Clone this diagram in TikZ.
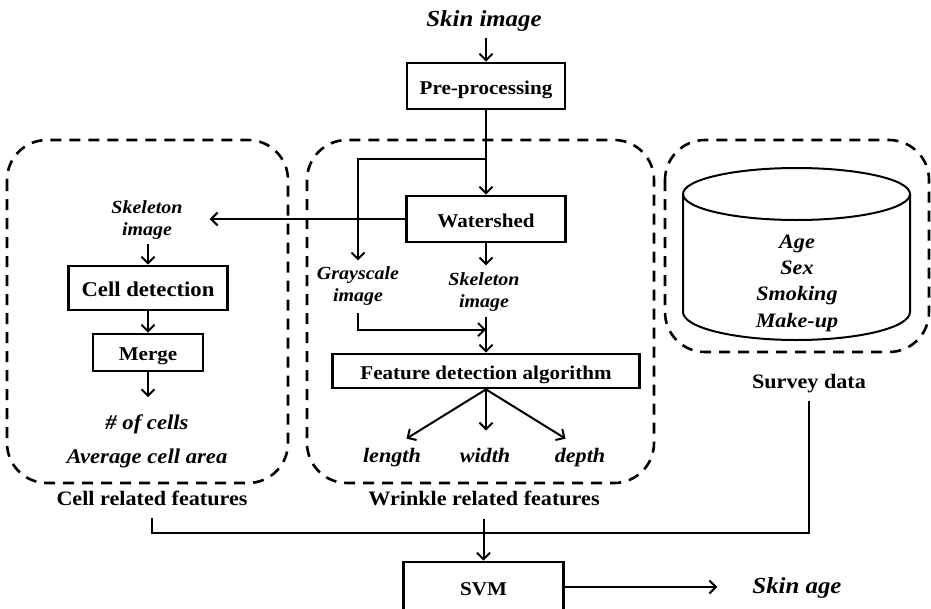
\documentclass[tikz,border=0pt]{standalone}
\usepackage{fontspec}
\setmainfont{Liberation Serif}[FakeStretch=1.08]
\usetikzlibrary{arrows.meta}
\begin{document}
\begin{tikzpicture}[x=1pt,y=-1pt,
  box/.style={draw,line width=2.8pt,inner sep=0pt,text height=16pt,text depth=0pt,
    font=\bfseries\fontsize{19.5}{22}\selectfont},
  ilbl/.style={inner sep=0pt,align=center,font=\bfseries\itshape\fontsize{18.5}{22}\selectfont},
  blbl/.style={inner sep=0pt,anchor=base,font=\bfseries\fontsize{20.5}{24}\selectfont},
  line/.style={line width=2pt},
  arr/.style={line width=2pt,-{Straight Barb[length=6.5pt,width=13pt]}},
  dbox/.style={line width=2.6pt,dash pattern=on 11pt off 8pt,rounded corners=40pt},
  cyl/.style={line width=2pt}]
\useasboundingbox (0,0) rectangle (931,608);
\clip (0,0) rectangle (931,608);

% containers
\draw[dbox] (7,140) rectangle (288,483);
\draw[dbox] (307,140) rectangle (654,483);
\draw[dbox] (665,140) rectangle (929,352);

% database cylinder
\draw[cyl] (796.5,194) ellipse [x radius=113.5, y radius=26];
\draw[cyl] (683,194) -- (683,312) arc[start angle=180, end angle=0, x radius=113.5, y radius=28] -- (910,194);

% boxes
\node[box,minimum width=158pt,minimum height=46pt] (pre) at (486,86) {Pre-processing};
\node[box,minimum width=159pt,minimum height=46pt] (ws) at (486,219) {Watershed};
\node[box,minimum width=159pt,minimum height=44pt,font=\bfseries\fontsize{21}{24}\selectfont] (cd) at (148,288) {Cell detection};
\node[box,minimum width=110pt,minimum height=37pt] (mg) at (148,352.5) {Merge};
\node[box,minimum width=307pt,minimum height=34pt] (fd) at (486,371) {Feature detection algorithm};
\node[box,minimum width=160pt,minimum height=50pt] (svm) at (483.5,587) {SVM};

% labels
\node[ilbl,anchor=base,font=\bfseries\itshape\fontsize{23}{26}\selectfont] (skin) at (484,26) {Skin image};
\node[ilbl] (skelL) at (147,219.7) {Skeleton\\image};
\node[ilbl] (gray) at (358,286) {Grayscale\\image};
\node[ilbl] (skelM) at (484,292) {Skeleton\\image};
\node[ilbl,anchor=base,font=\bfseries\itshape\fontsize{20.5}{24}\selectfont] (len) at (392,462) {length};
\node[ilbl,anchor=base,font=\bfseries\itshape\fontsize{20.5}{24}\selectfont] (wid) at (485,462) {width};
\node[ilbl,anchor=base,font=\bfseries\itshape\fontsize{20.5}{24}\selectfont] (dep) at (580,462) {depth};
\node[ilbl,font=\bfseries\itshape\fontsize{21}{34}\selectfont] (cells) at (147,441) {\# of cells\\Average cell area};
\node[ilbl,font=\bfseries\itshape\fontsize{20.5}{26.3}\selectfont] (db) at (797,283) {Age\\Sex\\Smoking\\Make-up};
\node[blbl] (cellf) at (152,505) {Cell related features};
\node[blbl] (wrf) at (484,505) {Wrinkle related features};
\node[blbl] (survey) at (809,388) {Survey data};
\node[ilbl,anchor=base,font=\bfseries\itshape\fontsize{23}{26}\selectfont] (age) at (797,593) {Skin age};

% helper coordinates
\coordinate (wsTip) at ([xshift=27pt]skelL.east);
\coordinate (mrg) at ([yshift=23pt]fd.north);
\coordinate (ageTip) at ([xshift=-35pt]age.west);

% connectors
\draw[arr] (pre.north |- skin.south) ++(0,7) -- (pre.north);
\draw[arr] (pre.south) -- (ws.north);
\draw[arr,shorten >=6pt] (pre.south) ++(0,49) -| (gray.north);
\draw[arr] (ws.west) -- (ws.west -| wsTip);
\draw[arr,shorten >=7pt] (ws.south) -- (ws.south |- skelM.north);
\draw[arr] (gray.south) ++(0,7) |- (mrg);
\draw[arr] (fd.north |- skelM.south) ++(0,5) -- (fd.north);
\draw[arr,shorten >=17pt] (fd.south) -- (len.north);
\draw[arr,shorten >=17pt] (fd.south) -- (fd.south |- wid.north);
\draw[arr,shorten >=17pt] (fd.south) -- (dep.north);
\draw[arr] (cd.north |- skelL.south) ++(0,5) -- (cd.north);
\draw[arr] (cd.south) -- (mg.north);
\draw[arr,shorten >=17pt] (mg.south) -- (mg.south |- cells.north);
\draw[line] (cellf.south) ++(0,13) -- ++(0,15) -| ([yshift=-8pt]survey.south);
\draw[arr] (svm.north |- wrf.south) ++(0,13) -- (svm.north);
\draw[arr] (svm.east) -- (svm.east -| ageTip);
\end{tikzpicture}
\end{document}
